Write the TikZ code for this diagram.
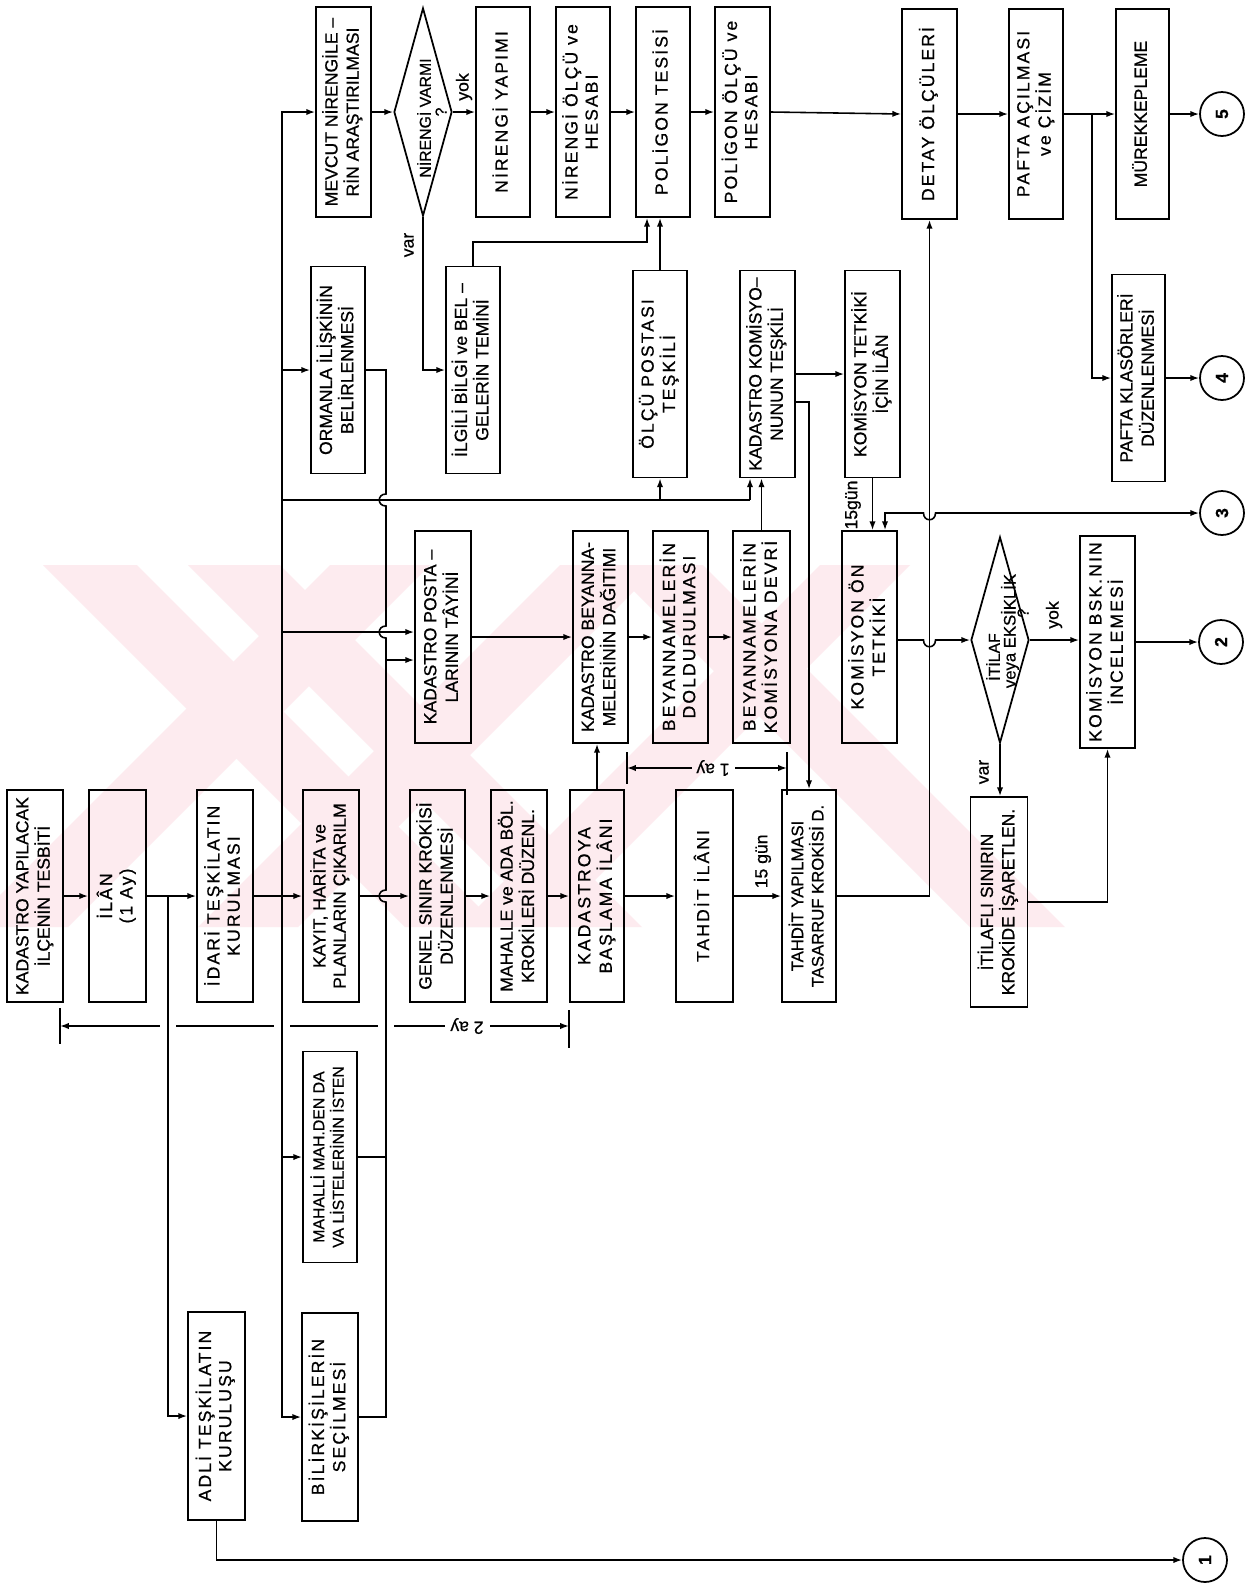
\documentclass[tikz,border=0pt]{standalone}
\usepackage{fontspec}
\usepackage{graphicx}
\setmainfont{Liberation Sans}[FakeBold=0.7]
\newfontfamily\spc{Liberation Sans}[LetterSpace=12,FakeBold=0.7]
\usetikzlibrary{arrows.meta,shapes.geometric,calc}
\definecolor{wm}{RGB}{253,235,239}
\newcommand{\vt}[1]{\rotatebox{90}{\begin{tabular}{@{}c@{}}#1\end{tabular}}}
\tikzset{
  bx/.style 2 args={draw, line width=1pt, minimum width=#1*0.02cm, minimum height=#2*0.02cm, inner sep=0pt, font=\fontsize{10}{11.5}\selectfont},
  dia/.style 2 args={draw, diamond, line width=1pt, minimum width=#1*0.02cm, minimum height=#2*0.02cm, inner sep=0pt},
  cir/.style={draw, circle, line width=1pt, minimum size=0.88cm, inner sep=0pt, font=\bfseries\fontsize{10}{12}\selectfont},
  ln/.style={line width=0.9pt},
  ar/.style={ln, -{Latex[length=5pt,width=3.6pt]}},
  arb/.style={ln, {Latex[length=5pt,width=3.6pt]}-{Latex[length=5pt,width=3.6pt]}},
  lbl/.style={font=\fontsize{10}{12}\selectfont, inner sep=1pt},
  dtx/.style={font=\fontsize{9}{10}\selectfont, inner sep=0pt},
}
\begin{document}
\begin{tikzpicture}[x=0.02cm,y=-0.02cm]
\fill[white] (0,0) rectangle (1253,1586);
\useasboundingbox (0,0) rectangle (1253,1586);

% ---------- faint watermark ----------
\begin{scope}
\clip (0,565) rectangle (1253,927);
\fill[wm] (43,565) -- (137,565) -- (499,927) -- (405,927) -- cycle;
\fill[wm] (188,565) -- (280,565) -- (642,927) -- (550,927) -- cycle;
\fill[wm] (608,565) -- (703,565) -- (1065,927) -- (970,927) -- cycle;
\fill[wm] (330,565) -- (430,565) -- (68,927) -- (-32,927) -- cycle;
\fill[wm] (560,565) -- (660,565) -- (298,927) -- (198,927) -- cycle;
\fill[wm] (820,565) -- (910,565) -- (548,927) -- (458,927) -- cycle;
\end{scope}

% ---------- main row ----------
\node[bx={56}{212}] (n1) at (35,896) {\vt{KADASTRO YAPILACAK\\İLÇENİN TESBİTİ}};
\node[bx={57}{212}] (n2) at (117.5,896) {\spc\vt{İLÂN\\(1 Ay)}};
\node[bx={56}{212}] (n3) at (225,896) {\spc\vt{İDARİ TEŞKİLATIN\\KURULMASI}};
\node[bx={56}{212}] (n4) at (331,896) {\vt{KAYIT, HARİTA ve\\PLANLARIN ÇIKARILM}};
\node[bx={55}{212}] (n19) at (437.5,896) {\vt{GENEL SINIR KROKİSİ\\DÜZENLENMESİ}};
\node[bx={56}{212}] (n20) at (519,896) {\vt{MAHALLE ve ADA BÖL.\\KROKİLERİ DÜZENL.}};
\node[bx={54}{212}] (n21) at (597,896) {\spc\vt{KADASTROYA\\BAŞLAMA İLÂNI}};
\node[bx={57}{212}] (n25) at (704.5,896) {\spc\vt{TAHDİT İLÂNI}};
\node[bx={54}{212}, font=\fontsize{9.5}{11}\selectfont] (n26) at (809,896) {\vt{TAHDİT YAPILMASI\\TASARRUF KROKİSİ D.}};
\node[bx={57}{210}] (n30) at (999,902) {\vt{İTİLAFLI SINIRIN\\KROKİDE İŞARETLEN.}};

% ---------- top row ----------
\node[bx={55}{210}] (n9) at (343.5,112) {\vt{MEVCUT NİRENGİLE –\\RİN ARAŞTIRILMASI}};
\node[dia={58}{208}] (n10) at (423,112) {};
\node[dtx] (t10) at (424,118) {\rotatebox{90}{NİRENGİ VARMI}};
\node[dtx] (q10) at (441,112) {\rotatebox{90}{?}};
\node[bx={54}{210}] (n11) at (503,112) {\spc\vt{NİRENGİ YAPIMI}};
\node[bx={54}{210}] (n12) at (583,112) {\spc\vt{NİRENGİ ÖLÇÜ ve\\HESABI}};
\node[bx={54}{210}] (n13) at (663,112) {\spc\vt{POLİGON TESİSİ}};
\node[bx={55}{210}] (n14) at (742.5,112) {\spc\vt{POLİGON ÖLÇÜ ve\\HESABI}};
\node[bx={55}{210}] (n32) at (929.5,114) {\spc\vt{DETAY ÖLÇÜLERİ}};
\node[bx={54}{210}] (n33) at (1036,114) {\spc\vt{PAFTA AÇILMASI\\ve ÇİZİM}};
\node[bx={53}{210}] (n34) at (1142.5,114) {\vt{MÜREKKEPLEME}};
\node[cir] (c5) at (1222,114) {\rotatebox{90}{5}};

% ---------- second row ----------
\node[bx={54}{207}] (n8) at (338,370) {\vt{ORMANLA İLİŞKİNİN\\BELİRLENMESİ}};
\node[bx={54}{207}] (n15) at (473,370) {\vt{İLGİLİ BİLGİ ve BEL –\\GELERİN TEMİNİ}};
\node[bx={54}{207}] (n16) at (660,374) {\spc\vt{ÖLÇÜ POSTASI\\TEŞKİLİ}};
\node[bx={55}{207}] (n17) at (767.5,374) {\vt{KADASTRO KOMİSYO–\\NUNUN TEŞKİLİ}};
\node[bx={55}{207}] (n27) at (872.5,374) {\vt{KOMİSYON TETKİKİ\\İÇİN İLÂN}};
\node[bx={53}{207}] (n35) at (1138.5,378) {\vt{PAFTA KLASÖRLERİ\\DÜZENLENMESİ}};
\node[cir] (c4) at (1222,378) {\rotatebox{90}{4}};
\node[cir] (c3) at (1222,513) {\rotatebox{90}{3}};

% ---------- third row ----------
\node[bx={56}{212}] (n18) at (443,637) {\vt{KADASTRO POSTA –\\LARININ TÂYİNİ}};
\node[bx={55}{212}] (n22) at (600.5,637) {\vt{KADASTRO BEYANNA-\\MELERİNİN DAĞITIMI}};
\node[bx={55}{212}] (n23) at (680.5,637) {\spc\vt{BEYANNAMELERİN\\DOLDURULMASI}};
\node[bx={57}{212}] (n24) at (761.5,637) {\spc\vt{BEYANNAMELERİN\\KOMİSYONA DEVRİ}};
\node[bx={55}{212}] (n28) at (869.5,637) {\spc\vt{KOMİSYON ÖN\\TETKİKİ}};
\node[dia={58}{206}] (n29) at (1000,640) {};
\node[dtx] (t29a) at (993,657) {\rotatebox{90}{İTİLAF}};
\node[dtx, font=\fontsize{9.5}{10}\selectfont] (t29b) at (1010,631) {\rotatebox{90}{veya EKSİKLİK}};
\node[dtx] (t29c) at (1023,613) {\rotatebox{90}{?}};
\node[bx={55}{212}] (n31) at (1107.5,642) {\spc\vt{KOMİSYON BSK.NIN\\İNCELEMESİ}};
\node[cir] (c2) at (1221,642) {\rotatebox{90}{2}};

% ---------- bottom ----------
\node[bx={54}{211}, font=\fontsize{9}{11}\selectfont] (n5) at (330,1157) {\vt{MAHALLİ MAH.DEN DA\\VA LİSTELERİNİN İSTEN}};
\node[bx={56}{208}] (n6) at (330,1417) {\spc\vt{BİLİRKİŞİLERİN\\SEÇİLMESİ}};
\node[bx={57}{208}] (n7) at (216.5,1416) {\spc\vt{ADLİ TEŞKİLATIN\\KURULUŞU}};
\node[cir] (c1) at (1205,1560) {\rotatebox{90}{1}};

% ---------- main row connectors ----------
\coordinate (jc) at (168,896);
\coordinate (ja) at (282,896);
\draw[ar] (n1.east) -- (n2.west);
\draw[ar] (n2.east) -- (n3.west);
\draw[ar] (n3.east) -- (n4.west);
\draw[ar] (n4.east) -- (n19.west);
\draw[ar] (n19.east) -- (n20.west);
\draw[ar] (n20.east) -- (n21.west);
\draw[ar] (n21.east) -- (n25.west);
\draw[ar] (n25.east) -- node[lbl, above=3pt, pos=0.62] {\rotatebox{90}{15 gün}} (n26.west);
\draw[ar] (n21.north) -- (n21.north |- n22.south);

% left buses
\draw[ar] (jc) |- (n7.west);
\draw[ar] (n7.south) |- (c1.west);
\draw[ar] (ja) |- (n9.west);
\draw[ar] (ja) |- (n8.west);
\draw[ar] (ja) |- (n5.west);
\draw[ar] (ja) |- (n6.west);
\draw[ar] (ja |- 0,632) -- (n18.west |- 0,632);
\draw[ln] (ja |- 0,500) -- (750,500);
\draw[ar] (750,500) -- (750,0 |- n17.south);
\draw[ar] (n16.south |- 0,500) -- (n16.south);

% right bus with line jumps
\draw[ln] (n8.east) -- (386,370) -- (386,494) .. controls (377,494) and (377,506) .. (386,506)
  -- (386,626) .. controls (377,626) and (377,638) .. (386,638)
  -- (386,890) .. controls (377,890) and (377,902) .. (386,902)
  -- (386,1417) -- (n6.east);
\draw[ln] (n5.east) -- (386,1157);
\draw[ar] (386,660) -- (n18.west |- 0,660);

% top row connectors
\draw[ar] (n9.east) -- (n10.west);
\draw[ar] (n10.east) -- node[lbl, above=5pt] {\rotatebox{90}{yok}} (n11.west);
\draw[ar] (n11.east) -- (n12.west);
\draw[ar] (n12.east) -- (n13.west);
\draw[ar] (n13.east) -- (n14.west);
\draw[ar] (n14.east) -- (n32.west);
\draw[ar] (n32.east) -- (n33.west);
\draw[ar] (n33.east) -- (n34.west);
\draw[ar] (n34.east) -- (c5.west);
\draw[ar] (1092,0 |- n33.east) |- (n35.west);
\draw[ar] (n35.east) -- (c4.west);
\draw[ar] (n10.south) |- (n15.west);
\node[lbl] (lvar1) at (409,245) {\rotatebox{90}{var}};
\draw[ar] (n15.north) |- (647,242) -- (647,0 |- n13.south);
\draw[ar] (n16.north) -- (n16.north |- n13.south);

% second / third row connectors
\draw[ar] (n17.east) -- (n27.west);
\draw[ar] (n17.east |- 0,402) -| (n26.north);
\draw[ar] (n24.north) -- (n24.north |- n17.south);
\draw[ar] (n18.east) -- (n22.west);
\draw[ar] (n22.east) -- (n23.west);
\draw[ar] (n23.east) -- (n24.west);
\draw[ar] (n27.south) -- (n27.south |- n28.north);
\node[lbl] (l15g) at (853,505) {\rotatebox{90}{15gün}};
\draw[ar] (n26.east) -| (n32.south);
\draw[arb] (885,0 |- n28.north) -- (885,513) -- (923.5,513) .. controls (923.5,522) and (935.5,522) .. (935.5,513) -- (c3.west);
\draw[ar] (n28.east |- 0,640) -- (923.5,640) .. controls (923.5,649) and (935.5,649) .. (935.5,640) -- (n29.west);
\draw[ar] (n29.east) -- (n31.west |- n29.east);
\node[lbl] (lyok2) at (1054,615) {\rotatebox{90}{yok}};
\draw[ar] (n29.south) -- (n29.south |- n30.north);
\node[lbl] (lvar2) at (984,772) {\rotatebox{90}{var}};
\draw[ar] (n30.east) -| (n31.south);
\draw[ar] (n31.east) -- (c2.west);

% ---------- dimension lines ----------
\coordinate (d2l) at (60,1026);
\coordinate (d2r) at (569,1026);
\draw[ln] (60,1008) -- (60,1044);
\draw[ln] (569,1010) -- (569,1048);
\draw[ln, {Latex[length=5pt,width=3.6pt]}-] (d2l) -- (160,1026);
\draw[ln] (176,1026) -- (274,1026);
\draw[ln] (290,1026) -- (378,1026);
\draw[ln] (394,1026) -- (445,1026);
\node[lbl] (l2ay) at (467,1026) {\rotatebox{180}{2 ay}};
\draw[ln, -{Latex[length=5pt,width=3.6pt]}] (490,1026) -- (d2r);

\coordinate (d1l) at (627,768);
\coordinate (d1r) at (787,768);
\draw[ln] (627,752) -- (627,784);
\draw[ln] (787,752) -- (787,795);
\draw[ln, {Latex[length=5pt,width=3.6pt]}-] (d1l) -- (692,768);
\node[lbl] (l1ay) at (713,768) {\rotatebox{180}{1 ay}};
\draw[ln, -{Latex[length=5pt,width=3.6pt]}] (735,768) -- (d1r);
\end{tikzpicture}
\end{document}
